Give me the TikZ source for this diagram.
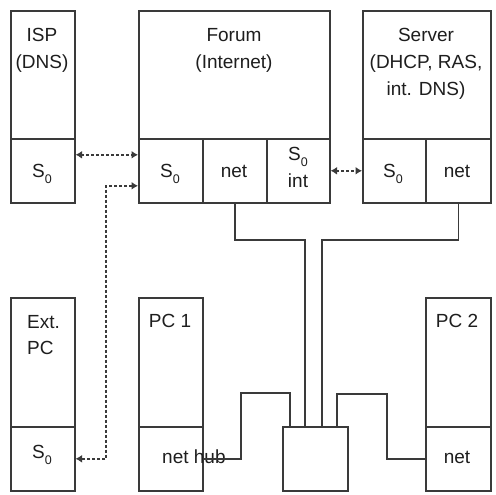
\documentclass[tikz,border=0pt]{standalone}
\usepackage{fontspec}
\setmainfont{Liberation Sans}
\usetikzlibrary{arrows.meta,calc}
\definecolor{lc}{HTML}{3A3A3A}
\definecolor{tc}{HTML}{1E1E1E}
\newcommand{\Szero}{S\raisebox{-6pt}{\fontsize{12.5}{12.5}\selectfont 0}}
\begin{document}
\begin{tikzpicture}[x=1pt,y=-1pt,
  comp/.style={draw=lc, line width=1.6pt, inner sep=0pt, anchor=north west},
  txt/.style={text=tc, font=\fontsize{19}{22}\selectfont, inner sep=0pt, anchor=base},
  wire/.style={draw=lc, line width=1.4pt},
  link/.style={draw=lc, line width=1.7pt, dash pattern=on 3pt off 2pt,
    {Latex[length=6.5pt,width=8pt]}-{Latex[length=6.5pt,width=8pt]}}]
\useasboundingbox[fill=white] (0,0) rectangle (495,495);
% ISP
\node[comp, minimum width=64pt, minimum height=128pt] (isp) at (10,10) {};
\node[comp, minimum width=64pt, minimum height=64pt] (isps0) at (10,138) {};
% Forum
\node[comp, minimum width=191pt, minimum height=128pt] (forum) at (138,10) {};
\node[comp, minimum width=64pt, minimum height=64pt] (fs0) at (138,138) {};
\node[comp, minimum width=64pt, minimum height=64pt] (fnet) at (202,138) {};
\node[comp, minimum width=63pt, minimum height=64pt] (fint) at (266,138) {};
% Server
\node[comp, minimum width=128pt, minimum height=128pt] (server) at (362,10) {};
\node[comp, minimum width=63pt, minimum height=64pt] (ss0) at (362,138) {};
\node[comp, minimum width=65pt, minimum height=64pt] (snet) at (425,138) {};
% Ext PC
\node[comp, minimum width=64pt, minimum height=129pt] (ext) at (10,297) {};
\node[comp, minimum width=64pt, minimum height=64pt] (es0) at (10,426) {};
% PC 1
\node[comp, minimum width=64pt, minimum height=129pt] (pc1) at (138,297) {};
\node[comp, minimum width=64pt, minimum height=64pt] (p1net) at (138,426) {};
% PC 2
\node[comp, minimum width=65pt, minimum height=129pt] (pc2) at (425,297) {};
\node[comp, minimum width=65pt, minimum height=64pt] (p2net) at (425,426) {};
% Hub
\node[comp, minimum width=65pt, minimum height=64pt] (hub) at (282,426) {};

% texts
\node[txt] (t1) at (42,42) {ISP};
\node[txt] (t2) at (42,68.5) {(DNS)};
\node[txt] (t3) at (234,42) {Forum};
\node[txt] (t4) at (234,68.5) {(Internet)};
\node[txt] (t5) at (426,42) {Server};
\node[txt] (t6) at (426,68.5) {(DHCP, RAS,};
\node[txt] (t7) at (426,95) {int. DNS)};
\node[txt] (t8) at (42,177) {\Szero};
\node[txt] (t9) at (170,177) {\Szero};
\node[txt] (t10) at (234,177) {net};
\node[txt] (t11) at (298,160) {\Szero};
\node[txt] (t12) at (298,187) {int};
\node[txt] (t13) at (393,177) {\Szero};
\node[txt] (t14) at (457,177) {net};
\node[txt, anchor=base west] (t15) at (27,328) {Ext.};
\node[txt, anchor=base west] (t16) at (27,354) {PC};
\node[txt] (t17) at (170,327) {PC 1};
\node[txt] (t18) at (457,327) {PC 2};
\node[txt] (t19) at (42,458) {\Szero};
\node[txt, anchor=base west] (t20) at (162,463) {net hub};
\node[txt] (t21) at (457,463) {net};

% wires
\coordinate (j1) at (305,240);
\coordinate (j2) at (322,240);
\coordinate (j3) at (241,393);
\coordinate (j4) at (290,393);
\coordinate (j5) at (337,394);
\coordinate (j6) at (387,394);
\draw[wire] (fnet.south) |- (j1) -- (j1 |- hub.north);
\draw[wire] (snet.south) |- (j2) -- (j2 |- hub.north);
\draw[wire] (p1net.east) -| (j3) -- (j4) -- (j4 |- hub.north);
\draw[wire] (j5 |- hub.north) -- (j5) -- (j6) |- (p2net.west);

% links
\coordinate (b1) at (106,0);
\draw[link] ([yshift=16pt]isps0.east) -- ([yshift=16pt]fs0.west);
\draw[link] ([yshift=-15pt]fs0.west) -| (b1 |- es0.east) -- (es0.east);
\draw[link] (fint.east) -- (ss0.west);
\end{tikzpicture}
\end{document}
